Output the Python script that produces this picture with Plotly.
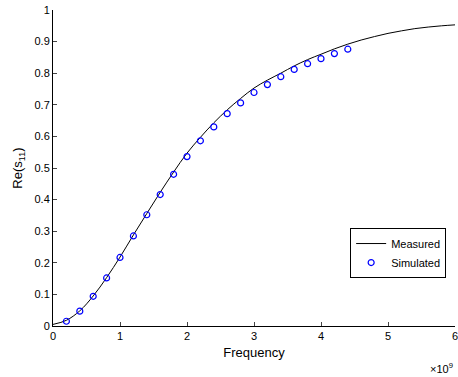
import plotly.graph_objects as go

# Measured curve (frequency in units of 1e9)
meas_f = [0, 0.2, 0.4, 0.6, 0.8, 1.0, 1.2, 1.4, 1.6, 1.8, 2.0, 2.2, 2.4, 2.6, 2.8, 3.0,
          3.2, 3.4, 3.6, 3.8, 4.0, 4.2, 4.4, 4.6, 4.8, 5.0, 5.2, 5.4, 5.6, 5.8, 6.0]
meas_re = [0.005, 0.018, 0.048, 0.095, 0.153, 0.218, 0.288, 0.356, 0.423, 0.487, 0.547,
           0.597, 0.643, 0.684, 0.720, 0.753, 0.778, 0.800, 0.823, 0.843, 0.860, 0.877,
           0.892, 0.905, 0.916, 0.926, 0.934, 0.941, 0.946, 0.950, 0.953]

sim_f = [0.2, 0.4, 0.6, 0.8, 1.0, 1.2, 1.4, 1.6, 1.8, 2.0, 2.2, 2.4, 2.6, 2.8, 3.0,
         3.2, 3.4, 3.6, 3.8, 4.0, 4.2, 4.4]
sim_re = [0.015, 0.047, 0.094, 0.152, 0.217, 0.285, 0.352, 0.416, 0.480, 0.536, 0.586,
          0.630, 0.672, 0.706, 0.739, 0.764, 0.789, 0.812, 0.830, 0.846, 0.862, 0.876]

x_ticks = [0, 1, 2, 3, 4, 5, 6]
y_ticks = [0, 0.1, 0.2, 0.3, 0.4, 0.5, 0.6, 0.7, 0.8, 0.9, 1]

fig = go.Figure()
fig.add_trace(go.Scatter(x=meas_f, y=meas_re, mode="lines", name="Measured",
                         line=dict(color="black", width=1, shape="spline")))
fig.add_trace(go.Scatter(x=sim_f, y=sim_re, mode="markers", name="Simulated",
                         marker=dict(symbol="circle-open", size=6, color="blue",
                                     line=dict(width=1.2, color="blue"))))

font = dict(family="Liberation Sans, Arial, sans-serif", size=11, color="black")
fig.update_layout(
    width=458, height=377,
    margin=dict(l=53, r=3, t=10, b=51, autoexpand=False),
    plot_bgcolor="white", paper_bgcolor="white",
    font=font,
    xaxis=dict(range=[0, 6], tickvals=x_ticks, ticktext=[str(v) for v in x_ticks],
               ticks="inside", ticklen=4, ticklabeloverflow="allow", automargin=False,
               showline=True, linecolor="black", linewidth=1, showgrid=False,
               zeroline=False, title=dict(text="Frequency", standoff=6)),
    yaxis=dict(range=[0, 1], tickvals=y_ticks, ticktext=[str(v) for v in y_ticks],
               ticks="inside", ticklen=4, ticklabeloverflow="allow", automargin=False,
               showline=True, linecolor="black", linewidth=1, showgrid=False,
               zeroline=False, title=dict(text="Re(s<sub>11</sub>)", standoff=8)),
    legend=dict(x=0.978, y=0.31, xanchor="right", yanchor="top",
                bordercolor="black", borderwidth=1, bgcolor="white",
                font=font, tracegroupgap=0),
    showlegend=True,
)
fig.add_annotation(text="×10<sup>9</sup>", xref="paper", yref="paper", x=1.0, y=-0.105,
                   xanchor="right", yanchor="top", showarrow=False, font=font)

fig.write_html("out.html")
